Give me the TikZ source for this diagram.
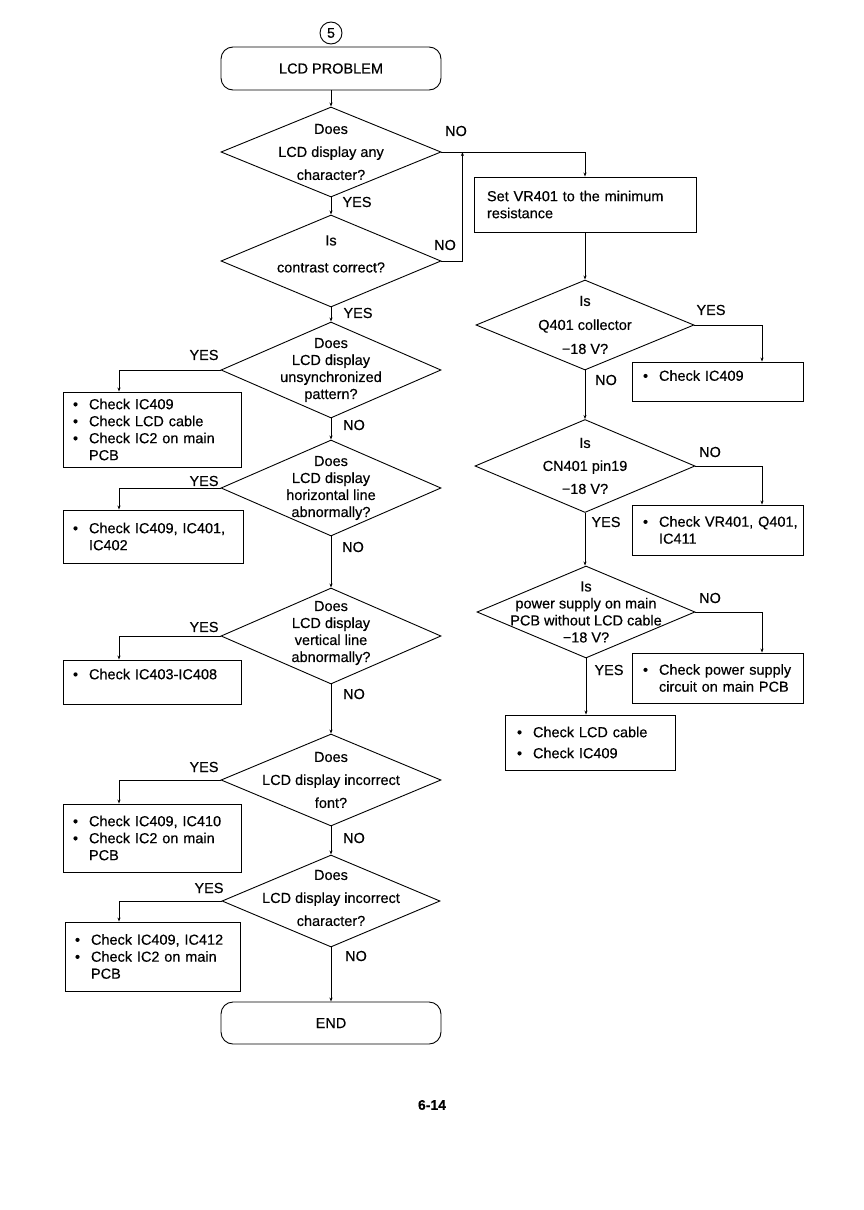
\documentclass[tikz,border=0pt]{standalone}
\usepackage{fontspec}
\setmainfont{Liberation Sans}[FakeBold=0.4]
\usetikzlibrary{shapes.geometric,arrows.meta,positioning}
\newcommand{\flowfont}{\fontsize{14.5}{17}\selectfont}
\newcommand{\bul}{\makebox[16pt][l]{\textbullet}}
\newcommand{\nobul}{\hspace*{16pt}}

\begin{document}
\begin{tikzpicture}[x=1pt, y=-1pt, line width=0.9pt,
    every node/.style={font=\flowfont},
    terminal/.style={rectangle, rounded corners=12pt, draw, minimum width=220pt, minimum height=43pt},
    decision/.style={diamond, draw, minimum width=220pt, minimum height=94pt, inner sep=0pt},
    qtext/.style={align=center, inner sep=0pt},
    action/.style={rectangle, draw, align=left, inner ysep=3pt},
    leftbox/.style={action, text width=158pt, inner xsep=10pt},
    rightbox/.style={action, text width=149pt, inner xsep=11pt},
    flow/.style={draw, -{Stealth[length=4pt,width=3pt]}},
    answer/.style={inner sep=1pt}
]
\useasboundingbox (0,0) rectangle (864,1210);

% Start
\node[circle, draw, minimum size=22pt, inner sep=0pt, font=\fontsize{14}{16}\selectfont] (five) at (331,33) {5};
\node[terminal] (lcd) at (331,68.5) {LCD PROBLEM};

% Left column of questions
\node[decision, minimum height=90pt, label={[qtext]center:{Does\\[6pt]LCD display any\\[6pt]character?}}] (q1) at (331,152) {};
\node[decision, minimum height=92pt, label={[qtext, yshift=7pt]center:{Is\\[10pt]contrast correct?}}] (q2) at (331,261) {};
\node[decision, minimum height=96pt, label={[qtext]center:{Does\\LCD display\\unsynchronized\\pattern?}}] (q3) at (331,370) {};
\node[decision, minimum height=96pt, label={[qtext]center:{Does\\LCD display\\horizontal line\\abnormally?}}] (q4) at (331,488) {};
\node[decision, minimum height=96pt, label={[qtext, yshift=3pt]center:{Does\\LCD display\\vertical line\\abnormally?}}] (q5) at (331,636) {};
\node[decision, minimum height=92pt, label={[qtext]center:{Does\\[6pt]LCD display incorrect\\[6pt]font?}}] (q6) at (331,780) {};
\node[decision, minimum width=218pt, minimum height=92pt, label={[qtext, yshift=3pt]center:{Does\\[6pt]LCD display incorrect\\[6pt]character?}}] (q7) at (331,901) {};
\node[terminal, minimum height=42pt] (end) at (331,1023) {END};

% Left column of checks
\node[leftbox, minimum height=75pt] (a3) at (152,429.5) {\bul Check IC409\\\bul Check LCD cable\\\bul Check IC2 on main\\\nobul PCB};
\node[leftbox, minimum height=53pt, text width=160pt] (a4) at (153,536.5) {\bul Check IC409, IC401,\\\nobul IC402};
\node[leftbox, minimum height=44pt, text depth=16pt] (a5) at (152,682) {\bul Check IC403-IC408};
\node[leftbox, minimum height=68pt] (a6) at (152,838) {\bul Check IC409, IC410\\\bul Check IC2 on main\\\nobul PCB};
\node[leftbox, minimum height=69pt, text width=155pt] (a7) at (152.5,956.5) {\bul Check IC409, IC412\\\bul Check IC2 on main\\\nobul PCB};

% Right column
\node[action, minimum height=55pt, text width=196pt, inner xsep=13pt] (vr) at (585,204.5) {Set VR401 to the minimum\\resistance};
\node[decision, minimum width=218pt, minimum height=90pt, label={[qtext]center:{Is\\[7pt]Q401 collector\\[7pt]−18 V?}}] (r1) at (585,325) {};
\node[decision, minimum height=93pt, label={[qtext]center:{Is\\[6pt]CN401 pin19\\[6pt]−18 V?}}] (r2) at (585,466) {};
\node[decision, minimum width=218pt, minimum height=92pt, label={[qtext]center:{Is\\power supply on main\\PCB without LCD cable\\−18 V?}}] (r3) at (586,612) {};

\node[rightbox, minimum height=39pt, text depth=12pt] (b1) at (717.5,381.5) {\bul Check IC409};
\node[rightbox, minimum height=50pt] (b2) at (717.5,530) {\bul Check~VR401,~Q401,\\\nobul IC411};
\node[rightbox, minimum height=50pt] (b3) at (717.5,678) {\bul Check~power~supply\\\nobul circuit on main PCB};
\node[action, minimum height=55pt, text width=146pt, inner xsep=12pt] (b4) at (590,742.5) {\bul Check LCD cable\\[4pt]\bul Check IC409};

\coordinate (j1) at ([xshift=21pt]q1.east);

% Connectors
\draw[flow] (lcd) -- (q1);
\draw[flow] (q1) -- (q2);
\draw[flow] (q1.east) -| (vr.north);
\draw[flow] (q2.east) -| (j1);
\draw[flow] (q2) -- (q3);
\draw[flow] (q3) -- (q4);
\draw[flow] (q4) -- (q5);
\draw[flow] (q5) -- (q6);
\draw[flow] (q6) -- (q7);
\draw[flow] (q7) -- (end);
\draw[flow] (q3.west) -| ([xshift=-33pt]a3.north);
\draw[flow] (q4.west) -| ([xshift=-34pt]a4.north);
\draw[flow] (q5.west) -| ([xshift=-33pt]a5.north);
\draw[flow] (q6.west) -| ([xshift=-33pt]a6.north);
\draw[flow] (q7.west) -| ([xshift=-33.5pt]a7.north);

\draw[flow] (vr) -- (r1);
\draw[flow] (r1) -- (r2);
\draw[flow] (r2.south) -- (r2.south |- r3.north);
\draw[flow] (r3.south) -- (r3.south |- b4.north);
\draw[flow] (r1.east) -| ([xshift=44.5pt]b1.north);
\draw[flow] (r2.east) -| ([xshift=44.5pt]b2.north);
\draw[flow] (r3.east) -| ([xshift=44.5pt]b3.north);

% Answers
\node[answer] (n1) at (456,131) {NO};
\node[answer] (y1) at (357,202) {YES};
\node[answer] (n2) at (445,245) {NO};
\node[answer] (y2) at (358,313) {YES};
\node[answer] (y3) at (204,355) {YES};
\node[answer] (n3) at (354,425) {NO};
\node[answer] (y4) at (204,481) {YES};
\node[answer] (n4) at (353,547) {NO};
\node[answer] (y5) at (204,627) {YES};
\node[answer] (n5) at (354,694) {NO};
\node[answer] (y6) at (204,767) {YES};
\node[answer] (n6) at (354,838) {NO};
\node[answer] (y7) at (209,888) {YES};
\node[answer] (n7) at (356,956) {NO};
\node[answer] (ry1) at (711,310) {YES};
\node[answer] (rn1) at (606,380) {NO};
\node[answer] (rn2) at (710,452) {NO};
\node[answer] (ry2) at (606,522) {YES};
\node[answer] (rn3) at (710,598) {NO};
\node[answer] (ry3) at (609,670) {YES};

% Page number
\node[font=\fontsize{14}{16}\selectfont\bfseries] (page) at (432,1105) {6-14};

\end{tikzpicture}
\end{document}
